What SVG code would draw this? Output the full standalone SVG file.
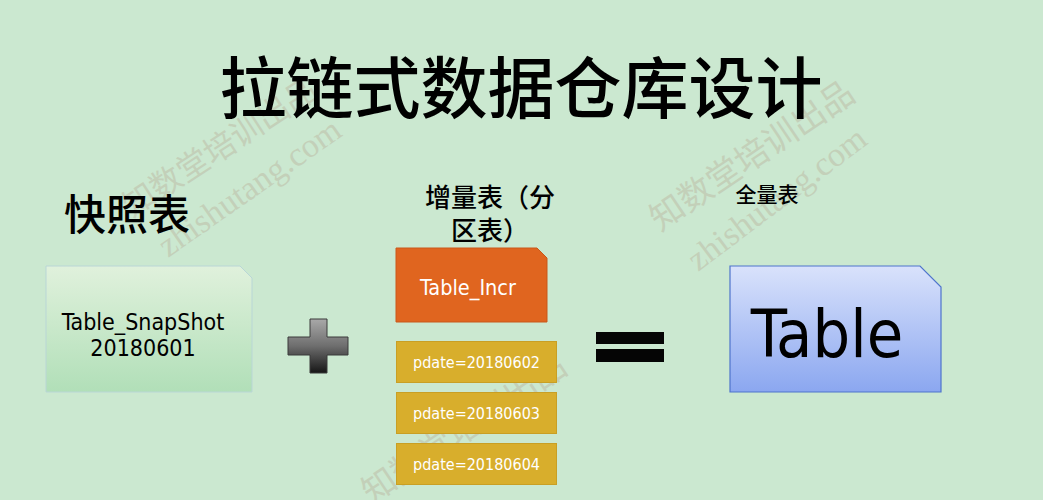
<svg xmlns="http://www.w3.org/2000/svg" width="1043" height="500" viewBox="0 0 1043 500">
  <defs>
    <linearGradient id="gSnap" x1="0" y1="0" x2="0" y2="1">
      <stop offset="0" stop-color="#e0f1dc"/>
      <stop offset="1" stop-color="#b1dfb8"/>
    </linearGradient>
    <linearGradient id="gTable" x1="0" y1="0" x2="0" y2="1">
      <stop offset="0" stop-color="#d9e2fb"/>
      <stop offset="1" stop-color="#8ba7f0"/>
    </linearGradient>
    <linearGradient id="gPlus" x1="0" y1="0" x2="0" y2="1">
      <stop offset="0" stop-color="#a9a9a9"/>
      <stop offset="0.5" stop-color="#6e6e6e"/>
      <stop offset="1" stop-color="#161616"/>
    </linearGradient>
    <style>
      .cjk { font-family: "Noto Sans CJK SC", "Liberation Sans", sans-serif; font-weight: 500; fill: #000; }
      .lat { font-family: "DejaVu Sans Condensed", "DejaVu Sans", sans-serif; text-anchor: middle; }
      .wm { font-family: "Liberation Serif", "Noto Sans CJK SC", serif; fill: #b39a86; opacity: 0.3; }
      .part { fill: #d8ae2c; stroke: #c99f24; stroke-width: 1; }
      .part-t { fill: #ffffff; font-size: 16px; }
    </style>
  </defs>

  <!-- background -->
  <rect x="0" y="0" width="1043" height="500" fill="#cbe8d0"/>

  <!-- faint brand watermarks -->
  <g id="watermarks">
    <text class="wm" font-size="32" transform="translate(132,218) rotate(-33)">知数堂培训出品</text>
    <text class="wm" font-size="34" transform="translate(168,258) rotate(-35)">zhishutang.com</text>
    <text class="wm" font-size="34" transform="translate(660,232) rotate(-34)">知数堂培训出品</text>
    <text class="wm" font-size="34" transform="translate(698,272) rotate(-37)">zhishutang.com</text>
    <text class="wm" font-size="34" transform="translate(372,505) rotate(-34)">知数堂培训出品</text>
  </g>

  <!-- title -->
  <text id="title" class="cjk" x="521" y="113" font-size="67" text-anchor="middle">拉链式数据仓库设计</text>

  <!-- snapshot table -->
  <g id="snapshot">
    <text class="cjk" x="64" y="230" font-size="42">快照表</text>
    <path d="M46,266 H240 L252,278 V392 H46 Z" fill="url(#gSnap)" stroke="#b9d6d6" stroke-width="1"/>
    <text class="lat" x="143" y="330" font-size="23">Table_SnapShot</text>
    <text class="lat" x="143" y="356" font-size="23">20180601</text>
  </g>

  <!-- operators -->
  <g id="plus">
    <path d="M310,319 H327 V337 H348 V355 H327 V373 H310 V355 H288 V337 H310 Z" fill="url(#gPlus)" stroke="#3a3a3a" stroke-width="1"/>
  </g>

  <!-- incremental table with partitions -->
  <g id="incr">
    <text class="cjk" x="490" y="207" font-size="26" text-anchor="middle">增量表（分</text>
    <text class="cjk" x="490" y="240" font-size="26" text-anchor="middle">区表）</text>
    <path d="M396,248 H537 L547,258 V322 H396 Z" fill="#e0651f" stroke="#c9581a" stroke-width="1"/>
    <text class="lat" x="468" y="295" font-size="21.5" fill="#ffffff">Table_Incr</text>
  </g>
  <g id="p20180602">
    <rect class="part" x="396.5" y="341.5" width="160" height="41"/>
    <text class="lat part-t" x="476.5" y="368">pdate=20180602</text>
  </g>
  <g id="p20180603">
    <rect class="part" x="396.5" y="392.5" width="160" height="41"/>
    <text class="lat part-t" x="476.5" y="419">pdate=20180603</text>
  </g>
  <g id="p20180604">
    <rect class="part" x="396.5" y="443.5" width="160" height="41"/>
    <text class="lat part-t" x="476.5" y="470">pdate=20180604</text>
  </g>

  <g id="equals">
    <rect x="596" y="332" width="68" height="12" fill="#050505"/>
    <rect x="596" y="349" width="68" height="13" fill="#050505"/>
  </g>

  <!-- full table -->
  <g id="full">
    <text class="cjk" x="767" y="202" font-size="21" text-anchor="middle">全量表</text>
    <path d="M730,266 H920 L941,287 V392 H730 Z" fill="url(#gTable)" stroke="#4f74cc" stroke-width="1.2"/>
    <text class="lat" x="827" y="357" font-size="66" fill="#000">Table</text>
  </g>

  <!-- no connectors between these nodes -->
  <g id="connectors"/>
</svg>
